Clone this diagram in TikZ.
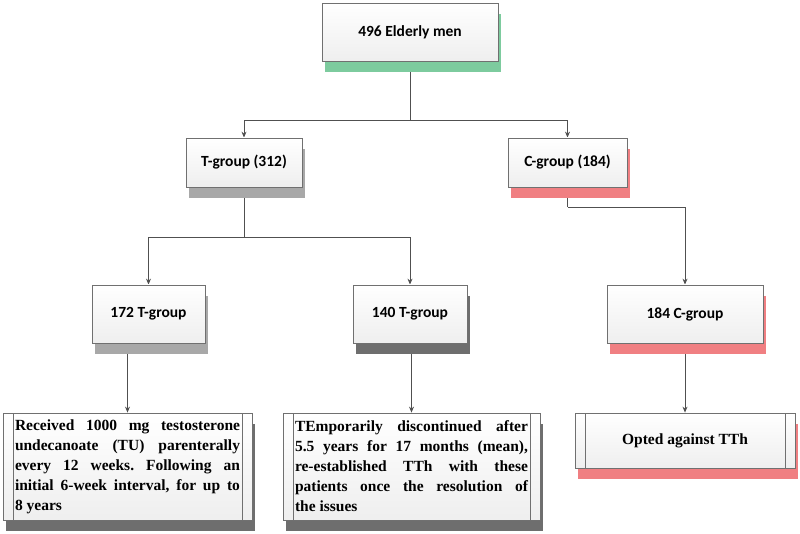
\documentclass[tikz,border=0pt]{standalone}
\usepackage{fontspec}
\setmainfont{Liberation Serif}
\newfontfamily\calibfont{Carlito}
\usetikzlibrary{arrows.meta,shadows,backgrounds}
\frenchspacing

\definecolor{linegray}{HTML}{505050}
\definecolor{boxedge}{HTML}{707070}
\definecolor{shgreen}{HTML}{7DCB9E}
\definecolor{shred}{HTML}{F07F82}
\definecolor{shlight}{HTML}{A8A8A8}
\definecolor{shdark}{HTML}{6E6E6E}

\begin{document}
\begin{tikzpicture}[x=1pt, y=-1pt,
    box/.style={draw=boxedge, line width=0.8pt, top color=white, bottom color=gray!13,
        inner sep=0pt, align=center, font=\calibfont\fontsize{15.5}{18}\selectfont\bfseries},
    shadowed/.style={drop shadow={shadow xshift=3pt, shadow yshift=-11pt, fill=#1, opacity=1}},
    procbox/.style={box, font=\fontsize{15.5}{20}\selectfont\bfseries,
        path picture={\draw[boxedge, line width=0.8pt]
            ([xshift=10pt]path picture bounding box.north west) -- ([xshift=10pt]path picture bounding box.south west)
            ([xshift=-10pt]path picture bounding box.north east) -- ([xshift=-10pt]path picture bounding box.south east);}},
    conn/.style={draw=linegray, line width=0.8pt, -{Stealth[length=6pt, width=5pt]}},
    link/.style={draw=linegray, line width=0.8pt}]
    \useasboundingbox (0,0) rectangle (800,534);

    % top
    \node[box, shadowed=shgreen, minimum width=176pt, minimum height=58pt] (men) at (410,32) {496 Elderly men};

    % groups
    \node[box, shadowed=shlight, minimum width=116pt, minimum height=49pt] (tg) at (244,162.5) {T-group (312)};
    \node[box, shadowed=shred, minimum width=119pt, minimum height=49pt] (cg) at (567.5,162.5) {C-group (184)};

    % subgroups
    \node[box, shadowed=shlight, minimum width=113pt, minimum height=58pt] (t172) at (148.5,314) {172 T-group};
    \node[box, shadowed=shdark, minimum width=114pt, minimum height=58pt] (t140) at (410,314) {140 T-group};
    \node[box, shadowed=shred, minimum width=156pt, minimum height=58pt] (c184) at (685,314) {184 C-group};

    % treatment
    \node[procbox, shadowed=shdark, minimum width=249pt, minimum height=107pt, text width=225pt, align=justify] (recv) at (127.5,466.5)
        {Received 1000 mg testosterone\linebreak undecanoate (TU) parenterally\linebreak every 12 weeks. Following an\linebreak initial 6-week interval, for up to\linebreak 8 years};
    \node[procbox, shadowed=shdark, minimum width=257pt, minimum height=107pt, text width=233pt, align=justify] (disc) at (411.5,466.5)
        {TEmporarily discontinued after\linebreak 5.5 years for 17 months (mean),\linebreak re-established TTh with these\linebreak patients once the resolution of\linebreak the issues};
    \node[procbox, shadowed=shred, minimum width=220pt, minimum height=55pt] (opt) at (685,440.5) {Opted against TTh};

    % connectors
    \coordinate (split1) at (410,120);
    \coordinate (split2) at (244,237);
    \coordinate (split3) at (567.5,207);
    \begin{pgfonlayer}{background}
        \draw[link] (men.south) -- (split1);
        \draw[conn] (split1) -| (tg.north);
        \draw[conn] (split1) -| (cg.north);
        \draw[link] (tg.south) -- (split2);
        \draw[conn] (split2) -| (t172.north);
        \draw[conn] (split2) -| (t140.north);
        \draw[link] (cg.south) -- (split3);
        \draw[conn] (split3) -| (c184.north);
        \draw[conn] (t172.south -| recv.north) -- (recv.north);
        \draw[conn] (t140.south -| disc.north) -- (disc.north);
        \draw[conn] (c184.south) -- (opt.north);
    \end{pgfonlayer}
\end{tikzpicture}
\end{document}
